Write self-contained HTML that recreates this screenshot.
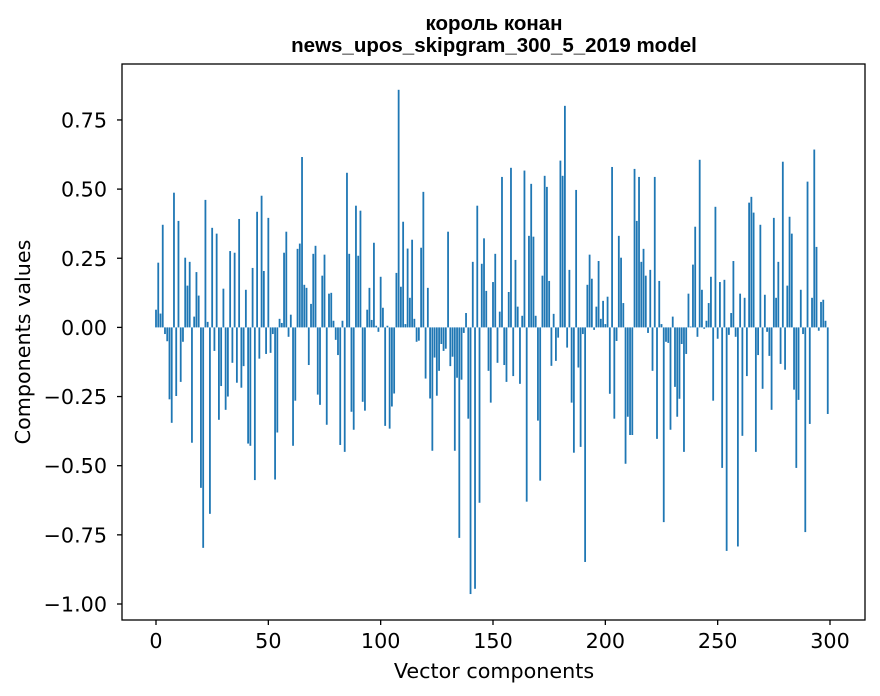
<!DOCTYPE html>
<html><head><meta charset="utf-8"><style>
html,body{margin:0;padding:0;background:#fff;}
svg{display:block;}
</style></head><body>
<svg id="chart" width="880" height="696" xmlns="http://www.w3.org/2000/svg">
<rect x="0" y="0" width="880" height="696" fill="#ffffff"/>
<g font-family="'Liberation Sans', Arial, sans-serif" font-weight="bold" font-size="20.5" text-anchor="middle" fill="#000">
<text x="494" y="30">король конан</text>
<text x="494" y="52">news_upos_skipgram_300_5_2019 model</text>
</g>
<g id="bars"></g>
<g id="axes"></g>
<text x="494" y="678" text-anchor="middle" font-family="'DejaVu Sans', sans-serif" font-size="20.7" fill="#000">Vector components</text>
<text transform="translate(30,342) rotate(-90)" text-anchor="middle" font-family="'DejaVu Sans', sans-serif" font-size="20.7" fill="#000">Components values</text>
</svg>
<script>
const values = [
0.064,0.234,0.05,0.371,-0.024,-0.05,-0.26,-0.345,0.487,-0.248,
0.385,-0.197,-0.052,0.252,0.151,0.237,-0.417,0.039,0.2,0.115,
-0.58,-0.797,0.461,0.02,-0.674,0.36,-0.085,0.339,-0.334,-0.212,
0.14,-0.298,-0.25,0.276,-0.128,0.27,-0.2,0.392,-0.218,-0.14,
0.136,-0.42,-0.428,0.215,-0.552,0.418,-0.113,0.476,0.204,-0.096,
0.396,-0.092,-0.024,-0.55,-0.38,0.031,0.016,0.27,0.346,-0.034,
0.046,-0.428,-0.265,0.284,0.303,0.616,0.154,0.143,-0.136,0.085,
0.266,0.295,-0.243,-0.28,0.187,0.263,-0.352,0.122,0.125,0.024,
-0.045,-0.1,-0.425,0.024,-0.45,0.559,0.266,-0.305,-0.37,0.44,
0.259,0.422,-0.269,-0.301,0.064,0.143,0.027,0.306,0.006,-0.016,
0.183,0.071,-0.356,0.006,-0.366,-0.286,-0.239,0.197,0.859,0.147,
0.382,0.012,0.285,0.107,0.317,0.031,-0.052,-0.048,0.288,0.49,
-0.185,0.143,-0.257,-0.446,-0.109,-0.247,-0.157,-0.06,-0.085,-0.077,
0.346,-0.14,-0.106,-0.446,-0.182,-0.761,-0.189,-0.02,0.052,-0.33,
-0.964,0.237,-0.945,0.44,-0.634,0.23,0.322,0.132,-0.157,-0.272,
0.164,0.266,-0.128,0.057,0.544,-0.136,-0.197,0.128,0.577,-0.176,
0.244,0.075,-0.204,0.042,0.567,-0.63,0.331,0.519,0.328,0.042,
-0.337,-0.554,0.187,0.548,0.508,0.168,-0.139,0.049,-0.121,-0.037,
0.603,0.548,0.801,-0.073,0.208,-0.272,-0.453,0.497,-0.145,-0.432,
-0.024,-0.848,0.154,0.263,0.176,-0.009,0.075,0.24,0.031,0.096,
0.012,0.111,-0.24,0.58,-0.33,-0.049,0.331,0.252,0.088,-0.493,
-0.323,-0.389,-0.389,0.573,0.385,0.544,0.237,0.284,0.187,-0.02,
0.208,-0.157,0.544,-0.403,0.168,0.012,-0.704,-0.052,-0.056,-0.37,
0.039,-0.215,-0.323,-0.258,-0.06,-0.45,-0.096,0.122,0.003,0.227,
0.364,-0.034,0.606,0.136,-0.005,0.024,0.088,0.183,-0.265,0.436,
-0.041,0.164,-0.508,0.172,-0.808,-0.027,0.052,0.24,-0.034,-0.792,
0.122,-0.392,0.107,-0.176,0.451,0.472,0.415,-0.45,-0.1,0.371,
-0.222,0.118,-0.016,-0.103,-0.298,0.396,0.107,0.237,-0.132,0.599,
-0.153,0.151,0.4,0.339,-0.225,-0.508,-0.262,0.136,-0.024,-0.74,
0.527,-0.349,0.107,0.643,0.291,-0.012,0.092,0.1,0.024,-0.313
];
const xTicks = [0,50,100,150,200,250,300];
const yTicks = [0.75,0.5,0.25,0,-0.25,-0.5,-0.75,-1.0];
const yTickLabels = ["0.75","0.50","0.25","0.00","\u22120.25","\u22120.50","\u22120.75","\u22121.00"];

const NS = "http://www.w3.org/2000/svg";
const plot = {left:122, right:865, top:64, bottom:620};
function xScale(v){ return 156 + (v - 0) * (830 - 156) / 300; }
function yScale(v){ return 327.4 - v * 276.6; }

const barsG = document.getElementById('bars');
const bw = 0.8 * (xScale(1) - xScale(0));
values.forEach((v, i) => {
  const r = document.createElementNS(NS, 'rect');
  const y0 = yScale(0), y1 = yScale(v);
  r.setAttribute('x', xScale(i) - bw/2);
  r.setAttribute('y', Math.min(y0, y1));
  r.setAttribute('width', bw);
  r.setAttribute('height', Math.max(Math.abs(y1 - y0), 0.01));
  r.setAttribute('fill', '#1f77b4');
  
  
  barsG.appendChild(r);
});

const axesG = document.getElementById('axes');
const frame = document.createElementNS(NS, 'rect');
frame.setAttribute('x', plot.left);
frame.setAttribute('y', plot.top);
frame.setAttribute('width', plot.right - plot.left);
frame.setAttribute('height', plot.bottom - plot.top);
frame.setAttribute('fill', 'none');
frame.setAttribute('stroke', '#000');
frame.setAttribute('stroke-width', '1.3');


axesG.appendChild(frame);

xTicks.forEach(t => {
  const x = xScale(t);
  const l = document.createElementNS(NS, 'line');
  l.setAttribute('x1', x); l.setAttribute('x2', x);
  l.setAttribute('y1', plot.bottom); l.setAttribute('y2', plot.bottom + 5);
  l.setAttribute('stroke', '#000'); l.setAttribute('stroke-width', '1.3');
  
  
  axesG.appendChild(l);
  const tx = document.createElementNS(NS, 'text');
  tx.setAttribute('x', x); tx.setAttribute('y', 648);
  tx.setAttribute('text-anchor', 'middle');
  tx.setAttribute('font-family', "'DejaVu Sans', sans-serif");
  tx.setAttribute('font-size', '20.7');
  tx.setAttribute('fill', '#000');
  tx.textContent = String(t);
  
  
  axesG.appendChild(tx);
});

yTicks.forEach((t, k) => {
  const y = yScale(t);
  const l = document.createElementNS(NS, 'line');
  l.setAttribute('x1', plot.left - 5); l.setAttribute('x2', plot.left);
  l.setAttribute('y1', y); l.setAttribute('y2', y);
  l.setAttribute('stroke', '#000'); l.setAttribute('stroke-width', '1.3');
  
  
  axesG.appendChild(l);
  const tx = document.createElementNS(NS, 'text');
  tx.setAttribute('x', 107); tx.setAttribute('y', y + 7.5);
  tx.setAttribute('text-anchor', 'end');
  tx.setAttribute('font-family', "'DejaVu Sans', sans-serif");
  tx.setAttribute('font-size', '20.7');
  tx.setAttribute('fill', '#000');
  tx.textContent = yTickLabels[k];
  
  
  axesG.appendChild(tx);
});
</script>
</body></html>
